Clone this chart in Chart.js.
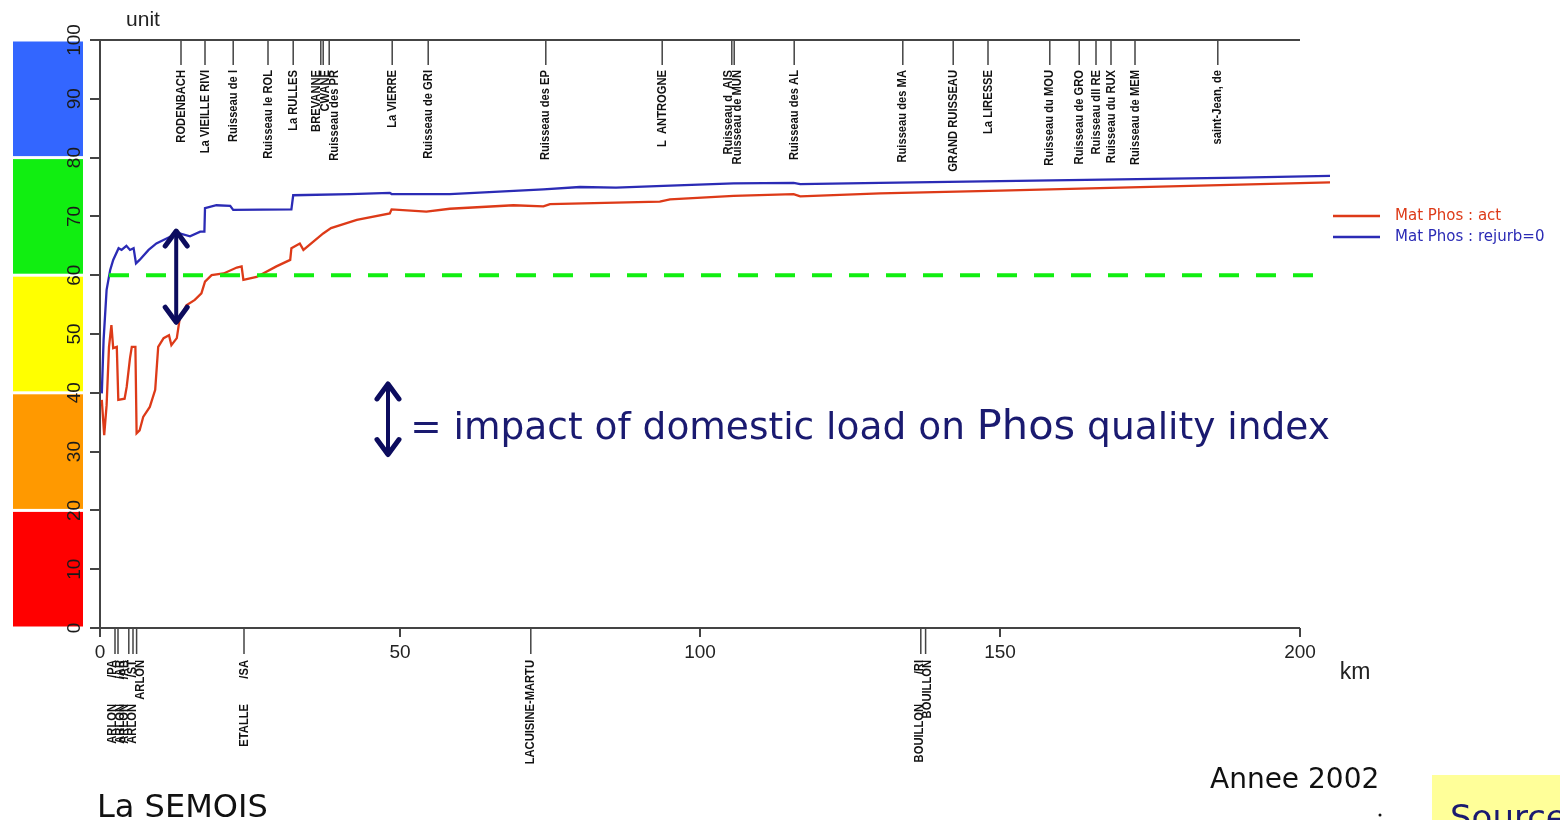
<!DOCTYPE html>
<html>
<head>
<meta charset="utf-8">
<title>La Semois - Mat Phos</title>
<script src="https://cdn.jsdelivr.net/npm/chart.js@4.4.1/dist/chart.umd.min.js"></script>
<style>
  html, body { margin: 0; padding: 0; background: #fff; }
  #wrap { width: 1560px; height: 820px; position: relative; }
</style>
</head>
<body>
<div id="wrap"><canvas id="semoisChart"></canvas></div>
<script>
// river km and index value
const redKm = [0.3, 0.7, 1.1, 1.5, 1.9, 2.2, 2.8, 3.05, 4.1, 4.45, 5.0, 5.3, 5.9, 6.1, 6.6, 7.2, 8.3, 9.2, 9.7, 10.6, 11.5, 11.9, 12.8, 13.3, 14.4, 15.8, 16.9, 17.5, 18.6, 20.6, 22.8, 23.6, 23.9, 26.1, 29.4, 31.7, 31.9, 33.3, 33.9, 37.2, 38.5, 42.8, 48.3, 48.6, 54.4, 58.3, 68.9, 73.9, 75.0, 93.3, 95.0, 105.6, 115.6, 116.7, 130, 150, 170, 190, 205];
const redVal = [38.8, 32.8, 37.9, 47.8, 51.5, 47.6, 47.8, 38.8, 39.0, 41.0, 45.9, 47.8, 47.8, 33.1, 33.6, 35.9, 37.6, 40.5, 47.8, 49.3, 49.8, 48.1, 49.3, 52.7, 54.9, 55.8, 56.9, 58.9, 60.0, 60.3, 61.3, 61.5, 59.2, 59.7, 61.5, 62.6, 64.6, 65.4, 64.3, 67.1, 68.0, 69.4, 70.5, 71.2, 70.8, 71.3, 71.9, 71.7, 72.1, 72.5, 72.9, 73.5, 73.8, 73.4, 73.9, 74.4, 74.9, 75.4, 75.8];

const blueKm = [0.3, 0.6, 1.1, 1.7, 2.2, 3.1, 3.6, 4.4, 5.0, 5.6, 6.0, 6.6, 8.1, 9.4, 12.2, 13.3, 15.0, 16.7, 17.4, 17.5, 19.4, 21.7, 22.2, 31.9, 32.2, 41.7, 48.3, 48.6, 58.3, 73.9, 80, 86, 93.9, 105.6, 115.6, 116.7, 130, 150, 170, 190, 205];
const blueVal = [39.9, 49.0, 57.5, 60.9, 62.6, 64.6, 64.3, 65.0, 64.3, 64.6, 62.0, 62.6, 64.3, 65.4, 66.8, 67.1, 66.6, 67.4, 67.4, 71.4, 71.9, 71.8, 71.1, 71.2, 73.6, 73.8, 74.0, 73.8, 73.8, 74.6, 75.0, 74.9, 75.2, 75.6, 75.7, 75.5, 75.7, 76.0, 76.3, 76.6, 76.9];

const limitKm = [1.5, 205];
const limitVal = [60, 60];

const xTicks = [0, 50, 100, 150, 200];
const yTicks = [0, 10, 20, 30, 40, 50, 60, 70, 80, 90, 100];

const bandEdges = [0, 20, 40, 60, 80, 100];
const bandColors = ['#ff0000', '#ff9900', '#ffff00', '#11ee11', '#3366ff'];

const tribKm = [13.5, 17.5, 22.2, 28.0, 32.2, 36.8, 37.2, 38.2, 48.7, 54.7, 74.3, 93.7, 105.3, 105.7, 115.7, 133.8, 142.2, 148.0, 158.3, 163.2, 166.0, 168.5, 172.5, 186.3];
const tribNames = ['RODENBACH', 'La VIEILLE RIVI', 'Ruisseau de l', 'Ruisseau le ROL', 'La RULLES', 'BREVANNE', 'CWANE', 'Ruisseau des PR', 'La VIERRE', 'Ruisseau de GRI', 'Ruisseau des EP', 'L  ANTROGNE', 'Ruisseau d  AIS', 'Ruisseau de MUN', 'Ruisseau des AL', 'Ruisseau des MA', 'GRAND RUISSEAU', 'La LIRESSE', 'Ruisseau du MOU', 'Ruisseau de GRO', 'Ruisseau dll RE', 'Ruisseau du RUX', 'Ruisseau de MEM', 'saint-Jean, de'];

const townKm = [2.5, 3.0, 4.8, 5.5, 6.1, 24.0, 71.8, 136.8, 137.6];
const townNames = ['ARLON', 'ARLON', 'ARLON', 'ARLON', 'ARLON', 'ETALLE', 'LACUISINE-MARTU', 'BOUILLON', 'BOUILLON'];
const townCodes = ['/PA', '/AR', '/AB', '/ST', '', '/SA', '', '/RI', ''];

const gapArrowKm = 12.7;
const gapArrowVal = [67.5, 52.0];
const noteArrowKm = 48.0;
const noteArrowVal = [41.5, 29.5];
const noteKm = 51.7;
const noteVal = 32.2;

const NAVY = '#0c0c5e';
const AXIS = '#444';
const labelFont = 'bold 13px "Liberation Sans", sans-serif';

function pts(xs, ys) {
  return xs.map((x, i) => ({ x: x, y: ys[i] }));
}

// spread labels that would overlap, keeping each cluster centred
function spread(xs, gap) {
  const out = xs.slice();
  let i = 0;
  while (i < out.length) {
    let j = i;
    while (j + 1 < out.length && out[j + 1] - out[j] < gap) j++;
    if (j > i) {
      const mid = (xs[i] + xs[j]) / 2;
      const span = (j - i) * gap;
      for (let k = i; k <= j; k++) out[k] = mid - span / 2 + (k - i) * gap;
    }
    i = j + 1;
  }
  return out;
}

// vertical text, optionally squeezed along its length
function vText(ctx, text, x, y, align, squeeze) {
  ctx.save();
  ctx.translate(x, y);
  ctx.rotate(-Math.PI / 2);
  if (squeeze) ctx.scale(squeeze, 1);
  ctx.textAlign = align;
  ctx.textBaseline = 'middle';
  ctx.fillText(text, 0, 0);
  ctx.restore();
}

function arrow(ctx, x, y1, y2) {
  const head = 15, half = 11;
  ctx.save();
  ctx.strokeStyle = NAVY;
  ctx.lineCap = 'round';
  ctx.lineJoin = 'round';
  ctx.lineWidth = 4;
  ctx.beginPath();
  ctx.moveTo(x, y1 + 2);
  ctx.lineTo(x, y2 - 2);
  ctx.stroke();
  ctx.lineWidth = 5;
  ctx.beginPath();
  ctx.moveTo(x - half, y1 + head);
  ctx.lineTo(x, y1);
  ctx.lineTo(x + half, y1 + head);
  ctx.moveTo(x - half, y2 - head);
  ctx.lineTo(x, y2);
  ctx.lineTo(x + half, y2 - head);
  ctx.stroke();
  ctx.restore();
}

const decorations = {
  id: 'decorations',
  afterDraw(chart) {
    const ctx = chart.ctx;
    const xs = chart.scales.x;
    const ys = chart.scales.y;
    const left = xs.getPixelForValue(0);
    const right = xs.getPixelForValue(200);
    const top = ys.getPixelForValue(100);
    const bottom = ys.getPixelForValue(0);

    // quality colour bands
    for (let i = 0; i < bandColors.length; i++) {
      const yA = ys.getPixelForValue(bandEdges[i + 1]);
      const yB = ys.getPixelForValue(bandEdges[i]);
      ctx.fillStyle = bandColors[i];
      ctx.fillRect(13, yA + 1.5, 70, yB - yA - 3);
    }

    // y tick labels, rotated
    ctx.fillStyle = '#1a1a1a';
    ctx.font = '19px "Liberation Sans", sans-serif';
    ys.ticks.forEach(t => vText(ctx, String(t.value), 75, ys.getPixelForValue(t.value), 'center'));

    // axis lines
    ctx.save();
    ctx.strokeStyle = AXIS;
    ctx.lineWidth = 2;
    ctx.beginPath();
    ctx.moveTo(left - 1, top);
    ctx.lineTo(right, top);
    ctx.moveTo(left - 1, bottom);
    ctx.lineTo(right, bottom);
    ctx.stroke();

    // tributaries along the top
    ctx.lineWidth = 1.5;
    const tx = tribKm.map(k => xs.getPixelForValue(k));
    ctx.beginPath();
    tx.forEach(x => { ctx.moveTo(x, top); ctx.lineTo(x, top + 25); });
    ctx.stroke();
    ctx.fillStyle = '#111';
    ctx.font = labelFont;
    spread(tx, 9).forEach((x, i) => vText(ctx, tribNames[i], x, top + 30, 'right', 0.86));

    // towns along the bottom
    const bx = townKm.map(k => xs.getPixelForValue(k));
    ctx.beginPath();
    bx.forEach(x => { ctx.moveTo(x, bottom); ctx.lineTo(x, bottom + 26); });
    ctx.stroke();
    spread(bx, 8).forEach((x, i) => {
      if (townCodes[i]) {
        vText(ctx, townCodes[i], x, bottom + 32, 'right', 0.86);
        vText(ctx, townNames[i], x, bottom + 76, 'right', 0.86);
      } else {
        vText(ctx, townNames[i], x, bottom + 32, 'right', 0.86);
      }
    });
    ctx.restore();

    // axis titles
    ctx.fillStyle = '#222';
    ctx.textAlign = 'center';
    ctx.textBaseline = 'middle';
    ctx.font = '21px "Liberation Sans", sans-serif';
    ctx.fillText('unit', 143, 20);
    ctx.font = '23px "Liberation Sans", sans-serif';
    ctx.fillText('km', 1355, 673);

    // gap arrow and note
    arrow(ctx, xs.getPixelForValue(gapArrowKm), ys.getPixelForValue(gapArrowVal[0]), ys.getPixelForValue(gapArrowVal[1]));
    arrow(ctx, xs.getPixelForValue(noteArrowKm), ys.getPixelForValue(noteArrowVal[0]), ys.getPixelForValue(noteArrowVal[1]));
    const parts = [['= impact of domestic load on ', 37.5], ['Phos', 41.5], [' quality index', 37.5]];
    let nx = xs.getPixelForValue(noteKm);
    const ny = ys.getPixelForValue(noteVal);
    ctx.fillStyle = '#1a1a70';
    ctx.textAlign = 'left';
    ctx.textBaseline = 'alphabetic';
    parts.forEach(p => {
      ctx.font = p[1] + 'px "DejaVu Sans", sans-serif';
      ctx.fillText(p[0], nx, ny);
      nx += ctx.measureText(p[0]).width;
    });

    // legend
    ctx.font = '15px "DejaVu Sans", sans-serif';
    ctx.textBaseline = 'middle';
    chart.data.datasets.slice(1).forEach((ds, i) => {
      const ly = 216 + i * 21;
      ctx.strokeStyle = ds.borderColor;
      ctx.lineWidth = 2.5;
      ctx.beginPath();
      ctx.moveTo(1333, ly);
      ctx.lineTo(1380, ly);
      ctx.stroke();
      ctx.fillStyle = ds.borderColor;
      ctx.fillText(ds.label, 1395, ly);
    });

    // footer texts
    ctx.fillStyle = '#111';
    ctx.textBaseline = 'alphabetic';
    ctx.font = '32px "DejaVu Sans", sans-serif';
    ctx.fillText('La SEMOIS', 97, 817);
    ctx.font = '28px "DejaVu Sans", sans-serif';
    ctx.fillText('Annee 2002', 1210, 788);
    ctx.beginPath();
    ctx.arc(1380, 815, 1.5, 0, Math.PI * 2);
    ctx.fill();
    ctx.fillStyle = '#ffff99';
    ctx.fillRect(1432, 775, 128, 45);
    ctx.fillStyle = '#1a1a70';
    ctx.font = '34px "DejaVu Sans", sans-serif';
    ctx.fillText('Source', 1450, 829);
  }
};

document.addEventListener('DOMContentLoaded', function() {
  const ctx = document.getElementById('semoisChart').getContext('2d');
  new Chart(ctx, {
    type: 'line',
    data: {
      datasets: [
        {
          label: 'limit',
          data: pts(limitKm, limitVal),
          borderColor: '#11ee11',
          borderWidth: 4,
          borderDash: [20, 17],
          pointRadius: 0
        },
        {
          label: 'Mat Phos : act',
          data: pts(redKm, redVal),
          borderColor: '#dd3a18',
          borderWidth: 2.3,
          pointRadius: 0,
          tension: 0
        },
        {
          label: 'Mat Phos : rejurb=0',
          data: pts(blueKm, blueVal),
          borderColor: '#2b2bb5',
          borderWidth: 2.3,
          pointRadius: 0,
          tension: 0
        }
      ]
    },
    options: {
      responsive: true,
      maintainAspectRatio: false,
      animation: false,
      layout: { padding: { left: 0, top: 40, right: 230, bottom: 0 } },
      plugins: {
        legend: { display: false },
        tooltip: { enabled: false }
      },
      scales: {
        x: {
          type: 'linear',
          min: 0,
          max: 205,
          afterBuildTicks: s => { s.ticks = xTicks.map(v => ({ value: v })); },
          afterFit: s => { s.height = 192; },
          border: { display: false },
          grid: { drawOnChartArea: false, drawTicks: true, tickLength: 9, color: AXIS, lineWidth: 2 },
          ticks: { color: '#222', padding: 4, maxRotation: 0, font: { size: 19, family: 'Liberation Sans' } }
        },
        y: {
          min: 0,
          max: 100,
          afterBuildTicks: s => { s.ticks = yTicks.map(v => ({ value: v })); },
          afterFit: s => { s.width = 100; },
          border: { display: true, color: AXIS, width: 2 },
          grid: { drawOnChartArea: false, drawTicks: true, tickLength: 10, color: AXIS, lineWidth: 2 },
          ticks: { display: false }
        }
      }
    },
    plugins: [decorations]
  });
});
</script>
</body>
</html>
